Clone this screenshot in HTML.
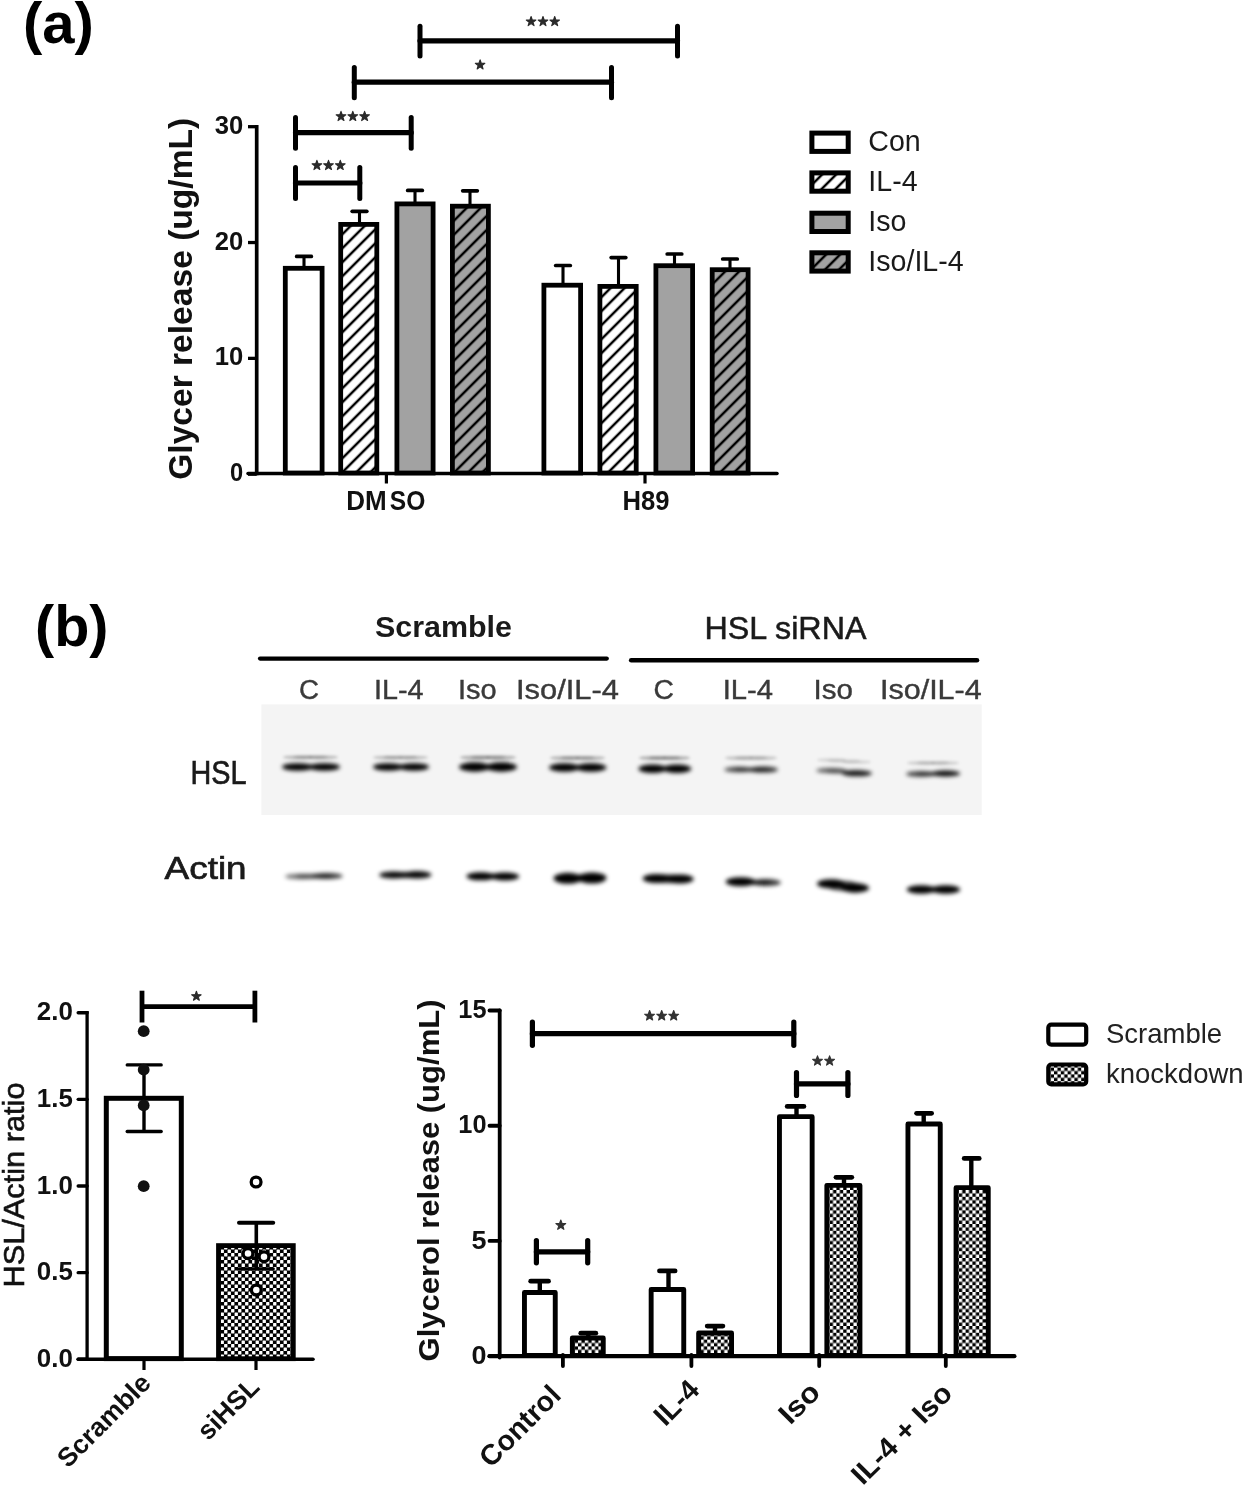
<!DOCTYPE html>
<html><head><meta charset="utf-8"><style>
html,body{margin:0;padding:0;background:#fff;}
body{width:1245px;height:1493px;overflow:hidden;}
svg{display:block;will-change:transform;}
text{-webkit-font-smoothing:antialiased;}
</style></head><body>
<svg width="1245" height="1493" viewBox="0 0 1245 1493" font-family='"Liberation Sans", sans-serif'>
<defs>
<pattern id="hatchW" patternUnits="userSpaceOnUse" width="9.9" height="9.9" patternTransform="rotate(45) translate(1.84,0)"><rect width="9.9" height="9.9" fill="#fff"/><line x1="0" y1="0" x2="0" y2="9.9" stroke="#000" stroke-width="2.5"/><line x1="9.9" y1="0" x2="9.9" y2="9.9" stroke="#000" stroke-width="2.5"/></pattern>
<pattern id="hatchG" patternUnits="userSpaceOnUse" width="9.9" height="9.9" patternTransform="rotate(45) translate(1.84,0)"><rect width="9.9" height="9.9" fill="#a2a2a2"/><line x1="0" y1="0" x2="0" y2="9.9" stroke="#000" stroke-width="2.5"/><line x1="9.9" y1="0" x2="9.9" y2="9.9" stroke="#000" stroke-width="2.5"/></pattern>
<pattern id="chk" patternUnits="userSpaceOnUse" width="7" height="7"><rect width="7" height="7" fill="#000"/><rect x="0.1" y="0.1" width="3.3" height="3.3" rx="0.5" fill="#fff"/><rect x="3.6" y="3.6" width="3.3" height="3.3" rx="0.5" fill="#fff"/></pattern>
<pattern id="chk2" patternUnits="userSpaceOnUse" width="6.8" height="6.8"><rect width="6.8" height="6.8" fill="#000"/><rect x="0" y="0" width="3.4" height="3.4" fill="#fff"/><rect x="3.4" y="3.4" width="3.4" height="3.4" fill="#fff"/></pattern>
<filter id="bl5" x="-30%" y="-300%" width="160%" height="700%"><feGaussianBlur stdDeviation="0.5"/></filter>
<filter id="bl7" x="-30%" y="-300%" width="160%" height="700%"><feGaussianBlur stdDeviation="0.7"/></filter>
<filter id="bl10" x="-30%" y="-300%" width="160%" height="700%"><feGaussianBlur stdDeviation="1.0"/></filter>
<filter id="bl12" x="-30%" y="-300%" width="160%" height="700%"><feGaussianBlur stdDeviation="1.2"/></filter>
<filter id="bl14" x="-30%" y="-300%" width="160%" height="700%"><feGaussianBlur stdDeviation="1.4"/></filter>
<filter id="bl16" x="-30%" y="-300%" width="160%" height="700%"><feGaussianBlur stdDeviation="1.6"/></filter>
<filter id="bl18" x="-30%" y="-300%" width="160%" height="700%"><feGaussianBlur stdDeviation="1.8"/></filter>
<filter id="bl20" x="-30%" y="-300%" width="160%" height="700%"><feGaussianBlur stdDeviation="2.0"/></filter>
<filter id="bl22" x="-30%" y="-300%" width="160%" height="700%"><feGaussianBlur stdDeviation="2.2"/></filter>
<filter id="bl25" x="-30%" y="-300%" width="160%" height="700%"><feGaussianBlur stdDeviation="2.5"/></filter>
</defs>
<rect width="1245" height="1493" fill="#fff"/>
<text x="23" y="42.6" font-size="58" font-weight="bold" text-anchor="start" fill="#000" >(a)</text>
<line x1="256.7" y1="125" x2="256.7" y2="475.2" stroke="#000" stroke-width="3.7" stroke-linecap="butt"/>
<line x1="248" y1="474.20000000000005" x2="256.7" y2="474.20000000000005" stroke="#000" stroke-width="3.3" stroke-linecap="butt"/>
<text x="243.2" y="481.30000000000007" font-size="26.5" font-weight="bold" text-anchor="end" fill="#111" textLength="13.2" lengthAdjust="spacingAndGlyphs" >0</text>
<line x1="248" y1="358.3666666666667" x2="256.7" y2="358.3666666666667" stroke="#000" stroke-width="3.3" stroke-linecap="butt"/>
<text x="243.2" y="365.4666666666667" font-size="26.5" font-weight="bold" text-anchor="end" fill="#111" textLength="28.5" lengthAdjust="spacingAndGlyphs" >10</text>
<line x1="248" y1="242.53333333333333" x2="256.7" y2="242.53333333333333" stroke="#000" stroke-width="3.3" stroke-linecap="butt"/>
<text x="243.2" y="249.63333333333333" font-size="26.5" font-weight="bold" text-anchor="end" fill="#111" textLength="28.5" lengthAdjust="spacingAndGlyphs" >20</text>
<line x1="248" y1="126.70000000000002" x2="256.7" y2="126.70000000000002" stroke="#000" stroke-width="3.3" stroke-linecap="butt"/>
<text x="243.2" y="133.8" font-size="26.5" font-weight="bold" text-anchor="end" fill="#111" textLength="28.5" lengthAdjust="spacingAndGlyphs" >30</text>
<line x1="248" y1="473.6" x2="777" y2="473.6" stroke="#000" stroke-width="3.5" stroke-linecap="round"/>
<line x1="386.4" y1="473" x2="386.4" y2="483.5" stroke="#000" stroke-width="3.2" stroke-linecap="butt"/>
<line x1="645" y1="473" x2="645" y2="483.5" stroke="#000" stroke-width="3.2" stroke-linecap="butt"/>
<text x="366.5" y="510.3" font-size="27.5" font-weight="bold" text-anchor="middle" fill="#111" textLength="40.5" lengthAdjust="spacingAndGlyphs" >DM</text>
<text x="407.5" y="510.3" font-size="27.5" font-weight="bold" text-anchor="middle" fill="#111" textLength="35.5" lengthAdjust="spacingAndGlyphs" >SO</text>
<text x="646" y="510.3" font-size="27.5" font-weight="bold" text-anchor="middle" fill="#111" textLength="47" lengthAdjust="spacingAndGlyphs" >H89</text>
<text transform="translate(192.3,298.8) rotate(-90)" font-size="34" font-weight="bold" text-anchor="middle" fill="#111" textLength="362" lengthAdjust="spacingAndGlyphs">Glycer release (ug/mL)</text>
<line x1="304" y1="256.4" x2="304" y2="267.9" stroke="#000" stroke-width="3.1" stroke-linecap="butt"/>
<line x1="296.7" y1="256.4" x2="311.3" y2="256.4" stroke="#000" stroke-width="3.7" stroke-linecap="round"/>
<line x1="359.5" y1="211.3" x2="359.5" y2="224" stroke="#000" stroke-width="3.1" stroke-linecap="butt"/>
<line x1="352.2" y1="211.3" x2="366.8" y2="211.3" stroke="#000" stroke-width="3.7" stroke-linecap="round"/>
<line x1="415" y1="190.4" x2="415" y2="203.5" stroke="#000" stroke-width="3.1" stroke-linecap="butt"/>
<line x1="407.7" y1="190.4" x2="422.3" y2="190.4" stroke="#000" stroke-width="3.7" stroke-linecap="round"/>
<line x1="470" y1="190.8" x2="470" y2="205.8" stroke="#000" stroke-width="3.1" stroke-linecap="butt"/>
<line x1="462.7" y1="190.8" x2="477.3" y2="190.8" stroke="#000" stroke-width="3.7" stroke-linecap="round"/>
<line x1="563" y1="265.5" x2="563" y2="284.8" stroke="#000" stroke-width="3.1" stroke-linecap="butt"/>
<line x1="555.7" y1="265.5" x2="570.3" y2="265.5" stroke="#000" stroke-width="3.7" stroke-linecap="round"/>
<line x1="618.5" y1="257.6" x2="618.5" y2="286" stroke="#000" stroke-width="3.1" stroke-linecap="butt"/>
<line x1="611.2" y1="257.6" x2="625.8" y2="257.6" stroke="#000" stroke-width="3.7" stroke-linecap="round"/>
<line x1="674.5" y1="254" x2="674.5" y2="265.3" stroke="#000" stroke-width="3.1" stroke-linecap="butt"/>
<line x1="667.2" y1="254" x2="681.8" y2="254" stroke="#000" stroke-width="3.7" stroke-linecap="round"/>
<line x1="730" y1="259" x2="730" y2="269.3" stroke="#000" stroke-width="3.1" stroke-linecap="butt"/>
<line x1="722.7" y1="259" x2="737.3" y2="259" stroke="#000" stroke-width="3.7" stroke-linecap="round"/>
<rect x="285.29999999999995" y="268.29999999999995" width="36.800000000000026" height="204.70000000000005" fill="#fff" stroke="#000" stroke-width="4.8" stroke-linejoin="miter"/>
<rect x="340.7" y="224.4" width="36.09999999999998" height="248.6" fill="url(#hatchW)" stroke="#000" stroke-width="4.8" stroke-linejoin="miter"/>
<rect x="396.9" y="203.9" width="36.2" height="269.1" fill="#a2a2a2" stroke="#000" stroke-width="4.8" stroke-linejoin="miter"/>
<rect x="452.4" y="206.20000000000002" width="36.000000000000014" height="266.79999999999995" fill="url(#hatchG)" stroke="#000" stroke-width="4.8" stroke-linejoin="miter"/>
<rect x="543.9" y="285.2" width="36.7" height="187.8" fill="#fff" stroke="#000" stroke-width="4.8" stroke-linejoin="miter"/>
<rect x="599.9" y="286.4" width="36.300000000000026" height="186.60000000000002" fill="url(#hatchW)" stroke="#000" stroke-width="4.8" stroke-linejoin="miter"/>
<rect x="655.9" y="265.7" width="36.7" height="207.3" fill="#a2a2a2" stroke="#000" stroke-width="4.8" stroke-linejoin="miter"/>
<rect x="712.1999999999999" y="269.7" width="35.90000000000005" height="203.3" fill="url(#hatchG)" stroke="#000" stroke-width="4.8" stroke-linejoin="miter"/>
<line x1="295.5" y1="183" x2="359.8" y2="183" stroke="#000" stroke-width="5.2" stroke-linecap="round"/>
<line x1="295.5" y1="167.5" x2="295.5" y2="198.5" stroke="#000" stroke-width="5" stroke-linecap="round"/>
<line x1="359.8" y1="167.5" x2="359.8" y2="198.5" stroke="#000" stroke-width="5" stroke-linecap="round"/>
<line x1="295.5" y1="132.7" x2="411.2" y2="132.7" stroke="#000" stroke-width="5.2" stroke-linecap="round"/>
<line x1="295.5" y1="117.5" x2="295.5" y2="148.3" stroke="#000" stroke-width="5" stroke-linecap="round"/>
<line x1="411.2" y1="117.5" x2="411.2" y2="148.3" stroke="#000" stroke-width="5" stroke-linecap="round"/>
<line x1="354.3" y1="82.2" x2="611.5" y2="82.2" stroke="#000" stroke-width="5.2" stroke-linecap="round"/>
<line x1="354.3" y1="67.5" x2="354.3" y2="97.8" stroke="#000" stroke-width="5" stroke-linecap="round"/>
<line x1="611.5" y1="67.5" x2="611.5" y2="97.8" stroke="#000" stroke-width="5" stroke-linecap="round"/>
<line x1="420" y1="40.8" x2="677.5" y2="40.8" stroke="#000" stroke-width="5.2" stroke-linecap="round"/>
<line x1="420" y1="26.3" x2="420" y2="56" stroke="#000" stroke-width="5" stroke-linecap="round"/>
<line x1="677.5" y1="26.3" x2="677.5" y2="56" stroke="#000" stroke-width="5" stroke-linecap="round"/>
<polygon points="316.90,160.35 318.10,163.79 321.74,163.86 318.83,166.06 319.89,169.55 316.90,167.47 313.91,169.55 314.97,166.06 312.06,163.86 315.70,163.79" fill="#2a2a2a" stroke="#2a2a2a" stroke-width="1.1" stroke-linejoin="round" filter="url(#bl7)"/>
<polygon points="328.50,160.35 329.70,163.79 333.34,163.86 330.43,166.06 331.49,169.55 328.50,167.47 325.51,169.55 326.57,166.06 323.66,163.86 327.30,163.79" fill="#2a2a2a" stroke="#2a2a2a" stroke-width="1.1" stroke-linejoin="round" filter="url(#bl7)"/>
<polygon points="340.30,160.35 341.50,163.79 345.14,163.86 342.23,166.06 343.29,169.55 340.30,167.47 337.31,169.55 338.37,166.06 335.46,163.86 339.10,163.79" fill="#2a2a2a" stroke="#2a2a2a" stroke-width="1.1" stroke-linejoin="round" filter="url(#bl7)"/>
<polygon points="341.00,111.35 342.20,114.79 345.84,114.86 342.93,117.06 343.99,120.55 341.00,118.47 338.01,120.55 339.07,117.06 336.16,114.86 339.80,114.79" fill="#2a2a2a" stroke="#2a2a2a" stroke-width="1.1" stroke-linejoin="round" filter="url(#bl7)"/>
<polygon points="352.80,111.35 354.00,114.79 357.64,114.86 354.73,117.06 355.79,120.55 352.80,118.47 349.81,120.55 350.87,117.06 347.96,114.86 351.60,114.79" fill="#2a2a2a" stroke="#2a2a2a" stroke-width="1.1" stroke-linejoin="round" filter="url(#bl7)"/>
<polygon points="364.60,111.35 365.80,114.79 369.44,114.86 366.53,117.06 367.59,120.55 364.60,118.47 361.61,120.55 362.67,117.06 359.76,114.86 363.40,114.79" fill="#2a2a2a" stroke="#2a2a2a" stroke-width="1.1" stroke-linejoin="round" filter="url(#bl7)"/>
<polygon points="480.10,59.85 481.28,63.25 484.88,63.33 482.01,65.50 483.06,68.95 480.10,66.89 477.14,68.95 478.19,65.50 475.32,63.33 478.92,63.25" fill="#2a2a2a" stroke="#2a2a2a" stroke-width="1.1" stroke-linejoin="round" filter="url(#bl7)"/>
<polygon points="531.10,16.55 532.28,19.95 535.88,20.03 533.01,22.20 534.06,25.65 531.10,23.59 528.14,25.65 529.19,22.20 526.32,20.03 529.92,19.95" fill="#2a2a2a" stroke="#2a2a2a" stroke-width="1.1" stroke-linejoin="round" filter="url(#bl7)"/>
<polygon points="543.00,16.55 544.18,19.95 547.78,20.03 544.91,22.20 545.96,25.65 543.00,23.59 540.04,25.65 541.09,22.20 538.22,20.03 541.82,19.95" fill="#2a2a2a" stroke="#2a2a2a" stroke-width="1.1" stroke-linejoin="round" filter="url(#bl7)"/>
<polygon points="554.70,16.55 555.88,19.95 559.48,20.03 556.61,22.20 557.66,25.65 554.70,23.59 551.74,25.65 552.79,22.20 549.92,20.03 553.52,19.95" fill="#2a2a2a" stroke="#2a2a2a" stroke-width="1.1" stroke-linejoin="round" filter="url(#bl7)"/>
<rect x="811.9" y="133.1" width="36.3" height="18.3" fill="#fff" stroke="#000" stroke-width="5"/>
<text x="868.3" y="150.9" font-size="28.6" font-weight="normal" text-anchor="start" fill="#1a1a1a" >Con</text>
<rect x="811.9" y="172.9" width="36.3" height="18.3" fill="url(#hatchW)" stroke="#000" stroke-width="5"/>
<text x="868.3" y="190.70000000000002" font-size="28.6" font-weight="normal" text-anchor="start" fill="#1a1a1a" >IL-4</text>
<rect x="811.9" y="213.2" width="36.3" height="18.3" fill="#a2a2a2" stroke="#000" stroke-width="5"/>
<text x="868.3" y="231.0" font-size="28.6" font-weight="normal" text-anchor="start" fill="#1a1a1a" >Iso</text>
<rect x="811.9" y="252.8" width="36.3" height="18.3" fill="url(#hatchG)" stroke="#000" stroke-width="5"/>
<text x="868.3" y="270.6" font-size="28.6" font-weight="normal" text-anchor="start" fill="#1a1a1a" >Iso/IL-4</text>
<text x="35" y="646" font-size="57.5" font-weight="bold" text-anchor="start" fill="#000" >(b)</text>
<text x="443.5" y="637" font-size="30" font-weight="bold" text-anchor="middle" fill="#1a1a1a" textLength="137" lengthAdjust="spacingAndGlyphs" >Scramble</text>
<text x="785.5" y="639" font-size="31" font-weight="normal" text-anchor="middle" fill="#1a1a1a" textLength="162" lengthAdjust="spacingAndGlyphs" stroke="#1a1a1a" stroke-width="0.5">HSL siRNA</text>
<line x1="260" y1="658.6" x2="606.8" y2="658.6" stroke="#000" stroke-width="4.2" stroke-linecap="round"/>
<line x1="631.2" y1="660.3" x2="977" y2="660.3" stroke="#000" stroke-width="4.6" stroke-linecap="round"/>
<text x="309.0" y="698.5" font-size="27" font-weight="normal" text-anchor="middle" fill="#3a3a3a" textLength="20" lengthAdjust="spacingAndGlyphs" stroke="#3a3a3a" stroke-width="0.4">C</text>
<text x="398.75" y="698.5" font-size="27" font-weight="normal" text-anchor="middle" fill="#3a3a3a" textLength="49.5" lengthAdjust="spacingAndGlyphs" stroke="#3a3a3a" stroke-width="0.4">IL-4</text>
<text x="477.35" y="698.5" font-size="27" font-weight="normal" text-anchor="middle" fill="#3a3a3a" textLength="38.7" lengthAdjust="spacingAndGlyphs" stroke="#3a3a3a" stroke-width="0.4">Iso</text>
<text x="567.5" y="698.5" font-size="27" font-weight="normal" text-anchor="middle" fill="#3a3a3a" textLength="103" lengthAdjust="spacingAndGlyphs" stroke="#3a3a3a" stroke-width="0.4">Iso/IL-4</text>
<text x="663.8" y="698.5" font-size="27" font-weight="normal" text-anchor="middle" fill="#3a3a3a" textLength="20.4" lengthAdjust="spacingAndGlyphs" stroke="#3a3a3a" stroke-width="0.4">C</text>
<text x="747.85" y="698.5" font-size="27" font-weight="normal" text-anchor="middle" fill="#3a3a3a" textLength="50.3" lengthAdjust="spacingAndGlyphs" stroke="#3a3a3a" stroke-width="0.4">IL-4</text>
<text x="833.3" y="698.5" font-size="27" font-weight="normal" text-anchor="middle" fill="#3a3a3a" textLength="39.4" lengthAdjust="spacingAndGlyphs" stroke="#3a3a3a" stroke-width="0.4">Iso</text>
<text x="930.85" y="698.5" font-size="27" font-weight="normal" text-anchor="middle" fill="#3a3a3a" textLength="101.7" lengthAdjust="spacingAndGlyphs" stroke="#3a3a3a" stroke-width="0.4">Iso/IL-4</text>
<rect x="261.4" y="704.4" width="720.3" height="110.6" fill="#f4f4f4"/>
<text x="218.5" y="783.6" font-size="33" font-weight="normal" text-anchor="middle" fill="#1a1a1a" textLength="56" lengthAdjust="spacingAndGlyphs" stroke="#1a1a1a" stroke-width="0.7">HSL</text>
<text x="205.6" y="878.8" font-size="32" font-weight="normal" text-anchor="middle" fill="#1a1a1a" textLength="82" lengthAdjust="spacingAndGlyphs" stroke="#1a1a1a" stroke-width="0.7">Actin</text>
<g filter="url(#bl16)"><ellipse cx="310.5" cy="757.3" rx="17.099999999999998" ry="2.0" fill="#000" opacity="0.17640000000000003"/><ellipse cx="297.82" cy="757.3" rx="14.82" ry="1.75" fill="#000" opacity="0.25200000000000006"/><ellipse cx="323.18" cy="757.3" rx="14.82" ry="1.75" fill="#000" opacity="0.25200000000000006"/></g>
<g filter="url(#bl16)"><ellipse cx="400.5" cy="757.5" rx="17.099999999999998" ry="2.0" fill="#000" opacity="0.1575"/><ellipse cx="387.82" cy="757.5" rx="14.82" ry="1.75" fill="#000" opacity="0.225"/><ellipse cx="413.18" cy="757.5" rx="14.82" ry="1.75" fill="#000" opacity="0.225"/></g>
<g filter="url(#bl16)"><ellipse cx="488.0" cy="757.5" rx="17.4" ry="2.2" fill="#000" opacity="0.189"/><ellipse cx="475.08" cy="757.5" rx="15.08" ry="2.0" fill="#000" opacity="0.27"/><ellipse cx="500.92" cy="757.5" rx="15.08" ry="2.0" fill="#000" opacity="0.27"/></g>
<g filter="url(#bl16)"><ellipse cx="577.5" cy="758.0" rx="17.099999999999998" ry="2.2" fill="#000" opacity="0.17640000000000003"/><ellipse cx="564.82" cy="758" rx="14.82" ry="2.0" fill="#000" opacity="0.25200000000000006"/><ellipse cx="590.18" cy="758" rx="14.82" ry="2.0" fill="#000" opacity="0.25200000000000006"/></g>
<g filter="url(#bl16)"><ellipse cx="664.5" cy="758.0" rx="15.899999999999999" ry="2.2" fill="#000" opacity="0.189"/><ellipse cx="652.78" cy="758" rx="13.780000000000001" ry="2.0" fill="#000" opacity="0.27"/><ellipse cx="676.22" cy="758" rx="13.780000000000001" ry="2.0" fill="#000" opacity="0.27"/></g>
<g filter="url(#bl16)"><ellipse cx="751.0" cy="758.0" rx="16.2" ry="2.2" fill="#000" opacity="0.126"/><ellipse cx="739.04" cy="758" rx="14.040000000000001" ry="2.0" fill="#000" opacity="0.18000000000000002"/><ellipse cx="762.96" cy="758" rx="14.040000000000001" ry="2.0" fill="#000" opacity="0.18000000000000002"/></g>
<g filter="url(#bl16)"><ellipse cx="844.0" cy="761.0" rx="16.8" ry="2.0" fill="#000" opacity="0.0945"/><ellipse cx="831.56" cy="760" rx="14.56" ry="1.75" fill="#000" opacity="0.135"/><ellipse cx="856.44" cy="762" rx="14.56" ry="1.75" fill="#000" opacity="0.135"/></g>
<g filter="url(#bl16)"><ellipse cx="933.0" cy="763.0" rx="16.2" ry="2.0" fill="#000" opacity="0.1134"/><ellipse cx="921.04" cy="763" rx="14.040000000000001" ry="1.75" fill="#000" opacity="0.162"/><ellipse cx="944.96" cy="763" rx="14.040000000000001" ry="1.75" fill="#000" opacity="0.162"/></g>
<g filter="url(#bl20)"><ellipse cx="311.0" cy="767.0" rx="18.0" ry="2.2875" fill="#000" opacity="0.7"/><ellipse cx="297.6" cy="767" rx="15.600000000000001" ry="3.75" fill="#000" opacity="1.0"/><ellipse cx="324.4" cy="767" rx="15.600000000000001" ry="3.75" fill="#000" opacity="1.0"/></g>
<g filter="url(#bl20)"><ellipse cx="401.0" cy="767.0" rx="17.4" ry="2.2875" fill="#000" opacity="0.7"/><ellipse cx="388.08" cy="767" rx="15.08" ry="3.75" fill="#000" opacity="1.0"/><ellipse cx="413.92" cy="767" rx="15.08" ry="3.75" fill="#000" opacity="1.0"/></g>
<g filter="url(#bl20)"><ellipse cx="488.0" cy="767.0" rx="18.0" ry="2.7375000000000003" fill="#000" opacity="0.7"/><ellipse cx="474.6" cy="767" rx="15.600000000000001" ry="4.75" fill="#000" opacity="1.0"/><ellipse cx="501.4" cy="767" rx="15.600000000000001" ry="4.75" fill="#000" opacity="1.0"/></g>
<g filter="url(#bl20)"><ellipse cx="577.75" cy="767.5" rx="17.849999999999998" ry="2.5125" fill="#000" opacity="0.7"/><ellipse cx="564.47" cy="767.5" rx="15.47" ry="4.25" fill="#000" opacity="1.0"/><ellipse cx="591.03" cy="767.5" rx="15.47" ry="4.25" fill="#000" opacity="1.0"/></g>
<g filter="url(#bl20)"><ellipse cx="664.8499999999999" cy="768.7" rx="16.46999999999999" ry="2.5125" fill="#000" opacity="0.7"/><ellipse cx="652.674" cy="768.7" rx="14.273999999999994" ry="4.25" fill="#000" opacity="1.0"/><ellipse cx="677.026" cy="768.7" rx="14.273999999999994" ry="4.25" fill="#000" opacity="1.0"/></g>
<g filter="url(#bl20)"><ellipse cx="751.0" cy="769.6" rx="16.8" ry="1.8375" fill="#000" opacity="0.48999999999999994"/><ellipse cx="738.56" cy="769.6" rx="14.56" ry="2.75" fill="#000" opacity="0.7"/><ellipse cx="763.44" cy="769.6" rx="14.56" ry="3.0" fill="#000" opacity="0.8"/></g>
<g filter="url(#bl20)"><ellipse cx="844.1" cy="771.8499999999999" rx="17.339999999999986" ry="1.725" fill="#000" opacity="0.45499999999999996"/><ellipse cx="831.2280000000001" cy="770.4" rx="15.027999999999988" ry="2.5" fill="#000" opacity="0.65"/><ellipse cx="856.972" cy="773.3" rx="15.027999999999988" ry="3.0" fill="#000" opacity="0.9"/></g>
<g filter="url(#bl20)"><ellipse cx="933.1" cy="773.75" rx="16.860000000000014" ry="1.8375" fill="#000" opacity="0.5249999999999999"/><ellipse cx="920.612" cy="774" rx="14.612000000000013" ry="2.75" fill="#000" opacity="0.75"/><ellipse cx="945.5880000000001" cy="773.5" rx="14.612000000000013" ry="3.0" fill="#000" opacity="0.95"/></g>
<g filter="url(#bl20)"><ellipse cx="313.85" cy="876.25" rx="17.909999999999997" ry="2.8000000000000003" fill="#000" opacity="0.385"/><ellipse cx="300.522" cy="876.5" rx="15.521999999999997" ry="2.75" fill="#000" opacity="0.55"/><ellipse cx="327.178" cy="876" rx="15.521999999999997" ry="3.0" fill="#000" opacity="0.8"/></g>
<g filter="url(#bl20)"><ellipse cx="405.35" cy="874.9" rx="16.290000000000003" ry="3.225" fill="#000" opacity="0.6649999999999999"/><ellipse cx="393.318" cy="875" rx="14.118000000000004" ry="3.5" fill="#000" opacity="0.95"/><ellipse cx="417.382" cy="874.8" rx="14.118000000000004" ry="3.75" fill="#000" opacity="0.95"/></g>
<g filter="url(#bl20)"><ellipse cx="492.8" cy="876.4" rx="16.44000000000002" ry="2.8000000000000003" fill="#000" opacity="0.7"/><ellipse cx="480.648" cy="876.3" rx="14.248000000000019" ry="4.0" fill="#000" opacity="1.0"/><ellipse cx="504.952" cy="876.5" rx="14.248000000000019" ry="4.0" fill="#000" opacity="1.0"/></g>
<g filter="url(#bl20)"><ellipse cx="579.95" cy="878.15" rx="16.46999999999999" ry="3.6250000000000004" fill="#000" opacity="0.7"/><ellipse cx="567.774" cy="878.3" rx="14.273999999999994" ry="5.5" fill="#000" opacity="1.0"/><ellipse cx="592.126" cy="878" rx="14.273999999999994" ry="5.5" fill="#000" opacity="1.0"/></g>
<g filter="url(#bl20)"><ellipse cx="668.1500000000001" cy="878.75" rx="15.869999999999992" ry="4.425" fill="#000" opacity="0.7"/><ellipse cx="656.4540000000001" cy="878.5" rx="13.753999999999994" ry="4.5" fill="#000" opacity="1.0"/><ellipse cx="679.846" cy="879" rx="13.753999999999994" ry="4.5" fill="#000" opacity="1.0"/></g>
<g filter="url(#bl20)"><ellipse cx="753.35" cy="882.1500000000001" rx="17.189999999999987" ry="2.5250000000000004" fill="#000" opacity="0.5599999999999999"/><ellipse cx="740.5980000000001" cy="881.7" rx="14.897999999999989" ry="4.5" fill="#000" opacity="1.0"/><ellipse cx="766.102" cy="882.6" rx="14.897999999999989" ry="3.5" fill="#000" opacity="0.8"/></g>
<g filter="url(#bl20)"><ellipse cx="843.05" cy="885.85" rx="16.230000000000008" ry="5.1" fill="#000" opacity="0.7"/><ellipse cx="831.066" cy="883.7" rx="14.066000000000006" ry="4.5" fill="#000" opacity="1.0"/><ellipse cx="855.034" cy="888" rx="14.066000000000006" ry="4.75" fill="#000" opacity="1.0"/></g>
<g filter="url(#bl20)"><ellipse cx="933.45" cy="889.5" rx="16.65" ry="2.9375000000000004" fill="#000" opacity="0.7"/><ellipse cx="921.13" cy="889.5" rx="14.43" ry="4.25" fill="#000" opacity="1.0"/><ellipse cx="945.7700000000001" cy="889.5" rx="14.43" ry="4.25" fill="#000" opacity="1.0"/></g>
<line x1="87.1" y1="1011" x2="87.1" y2="1361" stroke="#000" stroke-width="3.3" stroke-linecap="butt"/>
<line x1="78.2" y1="1359.3" x2="87.1" y2="1359.3" stroke="#000" stroke-width="3.4" stroke-linecap="round"/>
<text x="72.8" y="1366.8999999999999" font-size="26.5" font-weight="bold" text-anchor="end" fill="#111" textLength="36" lengthAdjust="spacingAndGlyphs" >0.0</text>
<line x1="78.2" y1="1272.65" x2="87.1" y2="1272.65" stroke="#000" stroke-width="3.4" stroke-linecap="round"/>
<text x="72.8" y="1280.25" font-size="26.5" font-weight="bold" text-anchor="end" fill="#111" textLength="36" lengthAdjust="spacingAndGlyphs" >0.5</text>
<line x1="78.2" y1="1186.0" x2="87.1" y2="1186.0" stroke="#000" stroke-width="3.4" stroke-linecap="round"/>
<text x="72.8" y="1193.6" font-size="26.5" font-weight="bold" text-anchor="end" fill="#111" textLength="36" lengthAdjust="spacingAndGlyphs" >1.0</text>
<line x1="78.2" y1="1099.35" x2="87.1" y2="1099.35" stroke="#000" stroke-width="3.4" stroke-linecap="round"/>
<text x="72.8" y="1106.9499999999998" font-size="26.5" font-weight="bold" text-anchor="end" fill="#111" textLength="36" lengthAdjust="spacingAndGlyphs" >1.5</text>
<line x1="78.2" y1="1012.7" x2="87.1" y2="1012.7" stroke="#000" stroke-width="3.4" stroke-linecap="round"/>
<text x="72.8" y="1020.3000000000001" font-size="26.5" font-weight="bold" text-anchor="end" fill="#111" textLength="36" lengthAdjust="spacingAndGlyphs" >2.0</text>
<line x1="78.2" y1="1359.3" x2="313" y2="1359.3" stroke="#000" stroke-width="3.6" stroke-linecap="round"/>
<line x1="144" y1="1358" x2="144" y2="1370" stroke="#000" stroke-width="3.2" stroke-linecap="butt"/>
<line x1="256" y1="1358" x2="256" y2="1370" stroke="#000" stroke-width="3.2" stroke-linecap="butt"/>
<rect x="106.3" y="1098.3" width="75.00000000000001" height="260.29999999999995" fill="#fff" stroke="#000" stroke-width="5.0" stroke-linejoin="miter"/>
<rect x="218.5" y="1245.6000000000001" width="74.8" height="113.09999999999991" fill="url(#chk)" stroke="#000" stroke-width="4.8" stroke-linejoin="miter"/>
<line x1="144" y1="1064.9" x2="144" y2="1131.5" stroke="#000" stroke-width="3.4" stroke-linecap="butt"/>
<line x1="127.2" y1="1064.9" x2="161.2" y2="1064.9" stroke="#000" stroke-width="3.3" stroke-linecap="round"/>
<line x1="127.2" y1="1131.5" x2="161.2" y2="1131.5" stroke="#000" stroke-width="3.3" stroke-linecap="round"/>
<line x1="256.3" y1="1222.7" x2="256.3" y2="1268.8" stroke="#000" stroke-width="3.6" stroke-linecap="butt"/>
<line x1="239" y1="1222.8" x2="273.2" y2="1222.8" stroke="#000" stroke-width="4.0" stroke-linecap="round"/>
<line x1="239" y1="1268.8" x2="273.2" y2="1268.8" stroke="#000" stroke-width="3.3" stroke-linecap="round"/>
<circle cx="143.7" cy="1031.2" r="5.9" fill="#111"/>
<circle cx="143.7" cy="1069.7" r="5.9" fill="#111"/>
<circle cx="143.7" cy="1105.4" r="5.9" fill="#111"/>
<circle cx="143.7" cy="1186.2" r="5.9" fill="#111"/>
<circle cx="248" cy="1253.6" r="4.9" fill="#fff" stroke="#000" stroke-width="3.3"/>
<circle cx="264" cy="1256.7" r="4.9" fill="#fff" stroke="#000" stroke-width="3.3"/>
<circle cx="256.3" cy="1290" r="4.9" fill="#fff" stroke="#000" stroke-width="3.3"/>
<circle cx="256.1" cy="1182" r="4.9" fill="#fff" stroke="#000" stroke-width="3.3"/>
<line x1="142" y1="1006.6" x2="254.9" y2="1006.6" stroke="#000" stroke-width="4.8" stroke-linecap="butt"/>
<line x1="142" y1="990.7" x2="142" y2="1022.5" stroke="#000" stroke-width="4.8" stroke-linecap="butt"/>
<line x1="254.9" y1="990.7" x2="254.9" y2="1022.5" stroke="#000" stroke-width="4.8" stroke-linecap="butt"/>
<polygon points="196.40,991.25 197.57,994.62 201.13,994.69 198.29,996.84 199.32,1000.25 196.40,998.22 193.48,1000.25 194.51,996.84 191.67,994.69 195.23,994.62" fill="#2a2a2a" stroke="#2a2a2a" stroke-width="1.1" stroke-linejoin="round" filter="url(#bl7)"/>
<text transform="translate(24.2,1185) rotate(-90)" font-size="29.5" font-weight="normal" text-anchor="middle" fill="#111" stroke="#111" stroke-width="0.6" textLength="205" lengthAdjust="spacingAndGlyphs">HSL/Actin ratio</text>
<text transform="translate(152.5,1384.5) rotate(-45)" font-size="26.5" font-weight="bold" text-anchor="end" fill="#111">Scramble</text>
<text transform="translate(261,1388.5) rotate(-45)" font-size="26.5" font-weight="bold" text-anchor="end" fill="#111">siHSL</text>
<line x1="499.7" y1="1010.5" x2="499.7" y2="1357.5" stroke="#000" stroke-width="3.8" stroke-linecap="round"/>
<line x1="489.5" y1="1356.2" x2="499.7" y2="1356.2" stroke="#000" stroke-width="3.8" stroke-linecap="round"/>
<text x="486.5" y="1363.8" font-size="26" font-weight="bold" text-anchor="end" fill="#111" textLength="15" lengthAdjust="spacingAndGlyphs" >0</text>
<line x1="489.5" y1="1240.9666666666667" x2="499.7" y2="1240.9666666666667" stroke="#000" stroke-width="3.8" stroke-linecap="round"/>
<text x="486.5" y="1248.5666666666666" font-size="26" font-weight="bold" text-anchor="end" fill="#111" textLength="15" lengthAdjust="spacingAndGlyphs" >5</text>
<line x1="489.5" y1="1125.7333333333333" x2="499.7" y2="1125.7333333333333" stroke="#000" stroke-width="3.8" stroke-linecap="round"/>
<text x="486.5" y="1133.3333333333333" font-size="26" font-weight="bold" text-anchor="end" fill="#111" textLength="28.2" lengthAdjust="spacingAndGlyphs" >10</text>
<line x1="489.5" y1="1010.5" x2="499.7" y2="1010.5" stroke="#000" stroke-width="3.8" stroke-linecap="round"/>
<text x="486.5" y="1018.1" font-size="26" font-weight="bold" text-anchor="end" fill="#111" textLength="28.2" lengthAdjust="spacingAndGlyphs" >15</text>
<line x1="489.5" y1="1356.2" x2="1014.4" y2="1356.2" stroke="#000" stroke-width="4.2" stroke-linecap="round"/>
<line x1="562.9" y1="1355" x2="562.9" y2="1366" stroke="#000" stroke-width="3.8" stroke-linecap="round"/>
<line x1="691.4" y1="1355" x2="691.4" y2="1366" stroke="#000" stroke-width="3.8" stroke-linecap="round"/>
<line x1="819.2" y1="1355" x2="819.2" y2="1366" stroke="#000" stroke-width="3.8" stroke-linecap="round"/>
<line x1="945.8" y1="1355" x2="945.8" y2="1366" stroke="#000" stroke-width="3.8" stroke-linecap="round"/>
<line x1="539.8" y1="1281.2" x2="539.8" y2="1292.1" stroke="#000" stroke-width="4.4" stroke-linecap="butt"/>
<line x1="530.7" y1="1281.2" x2="548.5" y2="1281.2" stroke="#000" stroke-width="4.8" stroke-linecap="round"/>
<line x1="588.3" y1="1333.2" x2="588.3" y2="1337.5" stroke="#000" stroke-width="4.4" stroke-linecap="butt"/>
<line x1="580.8000000000001" y1="1333.2" x2="595.8" y2="1333.2" stroke="#000" stroke-width="4.8" stroke-linecap="round"/>
<line x1="668.5" y1="1270.9" x2="668.5" y2="1289.1" stroke="#000" stroke-width="4.4" stroke-linecap="butt"/>
<line x1="659.5" y1="1270.9" x2="675.0999999999999" y2="1270.9" stroke="#000" stroke-width="4.8" stroke-linecap="round"/>
<line x1="715" y1="1326.1" x2="715" y2="1332.5" stroke="#000" stroke-width="4.4" stroke-linecap="butt"/>
<line x1="707.2" y1="1326.1" x2="722.9" y2="1326.1" stroke="#000" stroke-width="4.8" stroke-linecap="round"/>
<line x1="796.5" y1="1106.4" x2="796.5" y2="1116.2" stroke="#000" stroke-width="4.4" stroke-linecap="butt"/>
<line x1="787.2" y1="1106.4" x2="803.9" y2="1106.4" stroke="#000" stroke-width="4.8" stroke-linecap="round"/>
<line x1="844" y1="1177.3" x2="844" y2="1184.9" stroke="#000" stroke-width="4.4" stroke-linecap="butt"/>
<line x1="836.0" y1="1177.3" x2="851.8" y2="1177.3" stroke="#000" stroke-width="4.8" stroke-linecap="round"/>
<line x1="923.7" y1="1113.3" x2="923.7" y2="1123.5" stroke="#000" stroke-width="4.4" stroke-linecap="butt"/>
<line x1="916.6" y1="1113.3" x2="931.5999999999999" y2="1113.3" stroke="#000" stroke-width="4.8" stroke-linecap="round"/>
<line x1="971.3" y1="1158.4" x2="971.3" y2="1187.2" stroke="#000" stroke-width="4.4" stroke-linecap="butt"/>
<line x1="964.2" y1="1158.4" x2="979.1999999999999" y2="1158.4" stroke="#000" stroke-width="4.8" stroke-linecap="round"/>
<rect x="524.45" y="1292.55" width="30.800000000000047" height="63.0" fill="#fff" stroke="#000" stroke-width="4.9" stroke-linejoin="round"/>
<rect x="572.35" y="1337.95" width="30.90000000000007" height="17.59999999999991" fill="url(#chk2)" stroke="#000" stroke-width="4.9" stroke-linejoin="round"/>
<rect x="651.1500000000001" y="1289.55" width="32.6" height="66.0" fill="#fff" stroke="#000" stroke-width="4.9" stroke-linejoin="round"/>
<rect x="698.6500000000001" y="1332.95" width="32.899999999999956" height="22.59999999999991" fill="url(#chk2)" stroke="#000" stroke-width="4.9" stroke-linejoin="round"/>
<rect x="779.45" y="1116.65" width="32.700000000000024" height="238.89999999999986" fill="#fff" stroke="#000" stroke-width="4.9" stroke-linejoin="round"/>
<rect x="826.85" y="1185.3500000000001" width="33.1" height="170.19999999999982" fill="url(#chk2)" stroke="#000" stroke-width="4.9" stroke-linejoin="round"/>
<rect x="907.95" y="1123.95" width="32.30000000000005" height="231.5999999999999" fill="#fff" stroke="#000" stroke-width="4.9" stroke-linejoin="round"/>
<rect x="956.0500000000001" y="1187.65" width="32.200000000000024" height="167.89999999999986" fill="url(#chk2)" stroke="#000" stroke-width="4.9" stroke-linejoin="round"/>
<line x1="532.4" y1="1033.7" x2="793.8" y2="1033.7" stroke="#000" stroke-width="5.2" stroke-linecap="round"/>
<line x1="532.4" y1="1022" x2="532.4" y2="1045.3" stroke="#000" stroke-width="5.2" stroke-linecap="round"/>
<line x1="793.8" y1="1022" x2="793.8" y2="1045.3" stroke="#000" stroke-width="5.2" stroke-linecap="round"/>
<line x1="796.5" y1="1083.9" x2="847.9" y2="1083.9" stroke="#000" stroke-width="5.2" stroke-linecap="round"/>
<line x1="796.5" y1="1072.5" x2="796.5" y2="1095.5" stroke="#000" stroke-width="5.2" stroke-linecap="round"/>
<line x1="847.9" y1="1072.5" x2="847.9" y2="1095.5" stroke="#000" stroke-width="5.2" stroke-linecap="round"/>
<line x1="536.4" y1="1251.8" x2="587.7" y2="1251.8" stroke="#000" stroke-width="5.2" stroke-linecap="round"/>
<line x1="536.4" y1="1240.5" x2="536.4" y2="1262.8" stroke="#000" stroke-width="5.2" stroke-linecap="round"/>
<line x1="587.7" y1="1240.5" x2="587.7" y2="1262.8" stroke="#000" stroke-width="5.2" stroke-linecap="round"/>
<polygon points="649.60,1010.55 650.90,1014.02 654.59,1014.18 651.70,1016.48 652.69,1020.05 649.60,1018.01 646.51,1020.05 647.50,1016.48 644.61,1014.18 648.30,1014.02" fill="#333" stroke="#333" stroke-width="1.1" stroke-linejoin="round" filter="url(#bl7)"/>
<polygon points="661.70,1010.55 663.00,1014.02 666.69,1014.18 663.80,1016.48 664.79,1020.05 661.70,1018.01 658.61,1020.05 659.60,1016.48 656.71,1014.18 660.40,1014.02" fill="#333" stroke="#333" stroke-width="1.1" stroke-linejoin="round" filter="url(#bl7)"/>
<polygon points="673.70,1010.55 675.00,1014.02 678.69,1014.18 675.80,1016.48 676.79,1020.05 673.70,1018.01 670.61,1020.05 671.60,1016.48 668.71,1014.18 672.40,1014.02" fill="#333" stroke="#333" stroke-width="1.1" stroke-linejoin="round" filter="url(#bl7)"/>
<polygon points="817.50,1055.85 818.77,1059.24 822.39,1059.40 819.55,1061.66 820.52,1065.15 817.50,1063.15 814.48,1065.15 815.45,1061.66 812.61,1059.40 816.23,1059.24" fill="#333" stroke="#333" stroke-width="1.1" stroke-linejoin="round" filter="url(#bl7)"/>
<polygon points="829.60,1055.85 830.87,1059.24 834.49,1059.40 831.65,1061.66 832.62,1065.15 829.60,1063.15 826.58,1065.15 827.55,1061.66 824.71,1059.40 828.33,1059.24" fill="#333" stroke="#333" stroke-width="1.1" stroke-linejoin="round" filter="url(#bl7)"/>
<polygon points="560.80,1219.95 562.08,1223.38 565.74,1223.54 562.88,1225.82 563.85,1229.35 560.80,1227.33 557.75,1229.35 558.72,1225.82 555.86,1223.54 559.52,1223.38" fill="#333" stroke="#333" stroke-width="1.1" stroke-linejoin="round" filter="url(#bl7)"/>
<rect x="1048.3" y="1024.7" width="37.9" height="19.9" rx="3" fill="#fff" stroke="#000" stroke-width="4.2"/>
<rect x="1048.3" y="1064.5" width="37.9" height="19.9" rx="3" fill="url(#chk2)" stroke="#000" stroke-width="4.2"/>
<text x="1106" y="1043.4" font-size="27.5" font-weight="normal" text-anchor="start" fill="#222" >Scramble</text>
<text x="1106" y="1083.1" font-size="27.5" font-weight="normal" text-anchor="start" fill="#222" >knockdown</text>
<text transform="translate(438.5,1180.5) rotate(-90)" font-size="30" font-weight="bold" text-anchor="middle" fill="#111" textLength="362" lengthAdjust="spacingAndGlyphs">Glycerol release (ug/mL)</text>
<text transform="translate(562.5,1397) rotate(-45)" font-size="28.5" font-weight="bold" text-anchor="end" fill="#111">Control</text>
<text transform="translate(701,1391.5) rotate(-45)" font-size="28.5" font-weight="bold" text-anchor="end" fill="#111">IL-4</text>
<text transform="translate(822,1394) rotate(-45)" font-size="29" font-weight="bold" text-anchor="end" fill="#111" textLength="45" lengthAdjust="spacingAndGlyphs">Iso</text>
<text transform="translate(954,1395) rotate(-45)" font-size="28.5" font-weight="bold" text-anchor="end" fill="#111" textLength="129" lengthAdjust="spacingAndGlyphs">IL-4 + Iso</text>
</svg>
</body></html>
